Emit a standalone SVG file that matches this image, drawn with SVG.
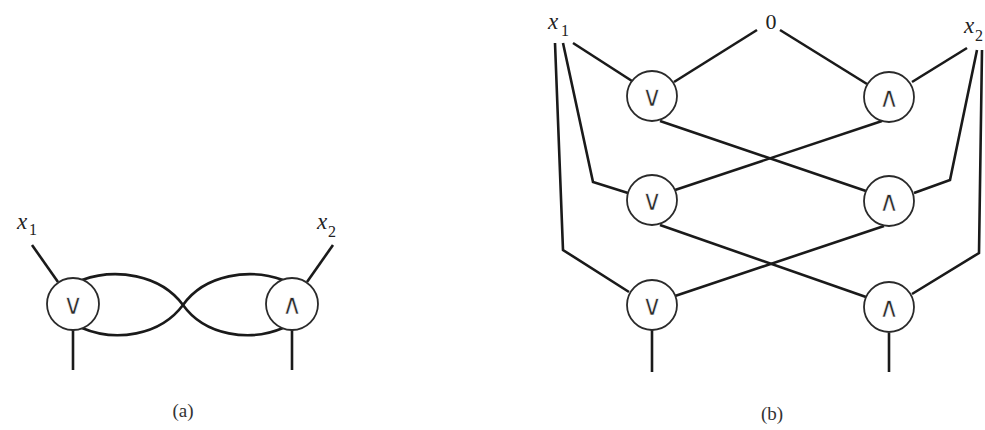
<svg xmlns="http://www.w3.org/2000/svg" width="985" height="430" viewBox="0 0 985 430">
<style>
.w{fill:none;stroke:#1a1a1a;stroke-width:2.6;stroke-linejoin:miter;stroke-linecap:butt}
.g circle{fill:#fff;stroke:#2a2a2a;stroke-width:1.8}
.op{font-family:"DejaVu Sans",sans-serif;font-size:28px;fill:#2a2a2a;stroke:#fff;stroke-width:0.6;text-anchor:middle}
.v{font-family:"Liberation Serif",serif;font-style:italic;font-size:23px;fill:#222}
.s{font-family:"Liberation Serif",serif;font-size:16px;fill:#222}
.n{font-family:"Liberation Serif",serif;font-size:22px;fill:#222;text-anchor:middle}
.cap{font-family:"Liberation Serif",serif;font-size:19px;fill:#333;text-anchor:middle}
</style>
<rect width="985" height="430" fill="#fff"/>
<g id="connectors">
<path class="w" d="M32,245 L58,282"/>
<path class="w" d="M333,245 L307,282"/>
<path class="w" d="M82,280 C115,268 160,274 183,305 C160,336 115,342 82,328"/>
<path class="w" d="M283,280 C250,268 205,274 183,305 C205,336 250,342 283,328"/>
<path class="w" d="M73,330 L73,370"/>
<path class="w" d="M292,330 L292,370"/>
<path class="w" d="M573,43 L632,81"/>
<path class="w" d="M757,30 L674,82"/>
<path class="w" d="M780,30 L867,84"/>
<path class="w" d="M967,48 L912,82"/>
<path class="w" d="M563,43 L593,182 L628,193"/>
<path class="w" d="M555,43 L563,250 L629,292"/>
<path class="w" d="M977,50 L950,180 L914,193"/>
<path class="w" d="M982,50 L979,253 L912,294"/>
<path class="w" d="M660,121 L866,191"/>
<path class="w" d="M882,121 L675,190"/>
<path class="w" d="M660,225 L866,297"/>
<path class="w" d="M884,226 L675,296"/>
<path class="w" d="M652,330 L652,372"/>
<path class="w" d="M889,333 L889,372"/>
</g>
<g id="a-or" class="g"><circle cx="73" cy="304" r="26"/><text class="op" x="73" y="314">∨</text></g>
<g id="a-and" class="g"><circle cx="292" cy="304" r="26"/><text class="op" x="292" y="314">∧</text></g>
<g id="a-x1"><text class="v" x="17" y="229">x</text><text class="s" x="29" y="235">1</text></g>
<g id="a-x2"><text class="v" x="317" y="229">x</text><text class="s" x="328" y="237">2</text></g>
<g id="b-or1" class="g"><circle cx="652" cy="96" r="25"/><text class="op" x="652" y="106">∨</text></g>
<g id="b-and1" class="g"><circle cx="889" cy="97" r="25"/><text class="op" x="889" y="107">∧</text></g>
<g id="b-or2" class="g"><circle cx="652" cy="200" r="25"/><text class="op" x="652" y="210">∨</text></g>
<g id="b-and2" class="g"><circle cx="889" cy="201" r="25"/><text class="op" x="889" y="211">∧</text></g>
<g id="b-or3" class="g"><circle cx="652" cy="305" r="25"/><text class="op" x="652" y="315">∨</text></g>
<g id="b-and3" class="g"><circle cx="889" cy="307" r="25"/><text class="op" x="889" y="317">∧</text></g>
<g id="b-x1"><text class="v" x="548" y="29">x</text><text class="s" x="561" y="36">1</text></g>
<g id="b-zero"><text class="n" x="771" y="29">0</text></g>
<g id="b-x2"><text class="v" x="964" y="33">x</text><text class="s" x="975" y="41">2</text></g>
<g id="captions"><text class="cap" x="183" y="417">(a)</text><text class="cap" x="772" y="420">(b)</text></g>
</svg>
